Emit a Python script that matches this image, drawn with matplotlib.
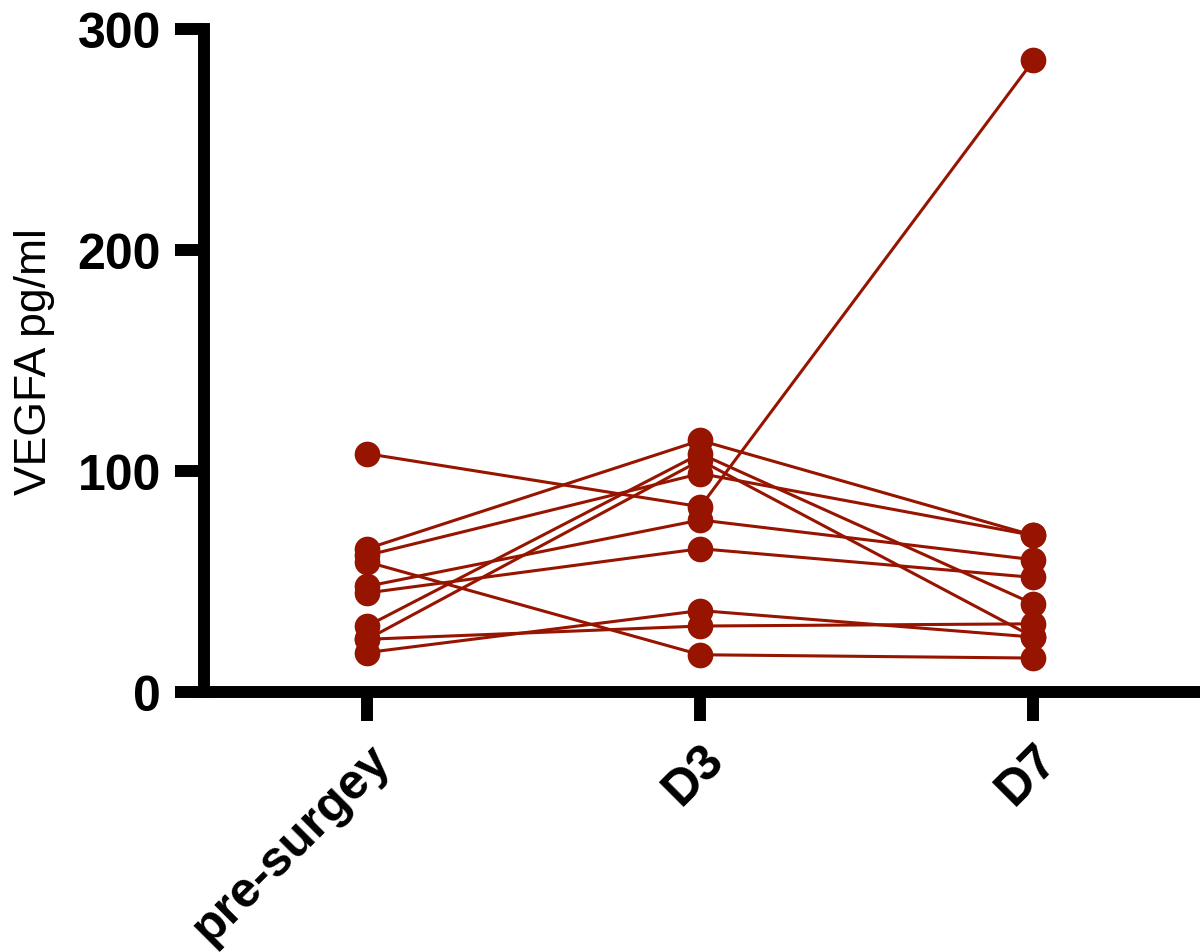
import matplotlib
matplotlib.use("Agg")
import matplotlib.pyplot as plt

categories = ["pre-surgey", "D3", "D7"]
pre = [108, 65, 62, 59, 48, 45, 30, 24, 24, 18]
d3 = [84, 114, 99, 17, 78, 65, 108, 105, 30, 37]
d7 = [286, 71, 71, 15.5, 60, 52, 40, 25, 31, 25]
yticks = [0, 100, 200, 300]

color = "#961400"
plt.rcParams['font.family'] = ['Liberation Sans', 'DejaVu Sans']

fig = plt.figure(figsize=(12, 9.53), dpi=100)
ax = fig.add_axes([0.17, 0.2725, 0.83, 0.6955])

xs = list(range(len(categories)))
for a, b, c in zip(pre, d3, d7):
    ax.plot(xs, [a, b, c], color=color, lw=2.2, marker='o', ms=18.5,
            markeredgewidth=0, solid_capstyle='butt', clip_on=False, zorder=3)

ax.set_xlim(-0.49, 2.5)
ax.set_ylim(0, 300)
ax.set_yticks(yticks)
ax.set_yticklabels([str(t) for t in yticks], fontsize=36, fontweight='bold')
ax.set_xticks(xs)
ax.set_xticklabels(categories, fontsize=36, fontweight='bold', rotation=45,
                   ha='right', va='top', rotation_mode='anchor')
ax.set_ylabel("VEGFA pg/ml", fontsize=32, labelpad=16)

for s in ['top', 'right']:
    ax.spines[s].set_visible(False)
for s in ['left', 'bottom']:
    ax.spines[s].set_linewidth(8.6)
ax.tick_params(axis='both', width=8.6, length=21, pad=10)
ax.spines['left'].set_capstyle('projecting')

fig.savefig("out.png", dpi=100)
